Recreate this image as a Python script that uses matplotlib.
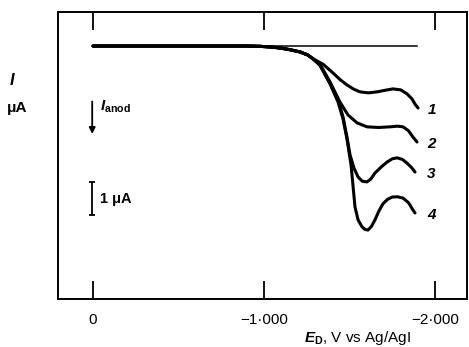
import numpy as np
import matplotlib.pyplot as plt

plt.rcParams['font.family'] = ['Liberation Sans', 'DejaVu Sans']
plt.rcParams['mathtext.fontset'] = 'custom'
plt.rcParams['mathtext.it'] = 'Liberation Sans:italic:bold'
plt.rcParams['mathtext.rm'] = 'Liberation Sans:bold'

# potencial (V vs Ag/AgI) y corriente (uA)
E_comun = [0.000, -0.900, -0.977, -1.040, -1.094, -1.150, -1.211, -1.255, -1.287]
I_comun = [0.00, 0.00, -0.01, -0.03, -0.06, -0.11, -0.18, -0.27, -0.39]

E1 = [-1.345, -1.404, -1.445, -1.485, -1.525, -1.561, -1.610, -1.661, -1.710,
      -1.754, -1.800, -1.836, -1.865, -1.883, -1.901]
I1 = [-0.55, -0.82, -1.02, -1.18, -1.31, -1.39, -1.42, -1.39, -1.34,
      -1.30, -1.33, -1.45, -1.60, -1.76, -1.88]

E2 = [-1.327, -1.386, -1.444, -1.491, -1.544, -1.602, -1.670, -1.737, -1.780,
      -1.813, -1.845, -1.871, -1.895]
I2 = [-0.55, -1.09, -1.70, -2.09, -2.33, -2.45, -2.47, -2.45, -2.43,
      -2.45, -2.57, -2.76, -2.91]

E3 = [-1.327, -1.386, -1.433, -1.462, -1.485, -1.503, -1.526, -1.550, -1.575,
      -1.602, -1.625, -1.649, -1.685, -1.719, -1.750, -1.778, -1.810, -1.836,
      -1.862, -1.883]
I3 = [-0.58, -1.12, -1.64, -2.15, -2.76, -3.30, -3.70, -3.97, -4.10,
      -4.12, -4.03, -3.85, -3.67, -3.52, -3.42, -3.39, -3.44, -3.55,
      -3.68, -3.82]

E4 = [-1.327, -1.386, -1.433, -1.462, -1.485, -1.509, -1.520, -1.532, -1.550,
      -1.573, -1.590, -1.608, -1.628, -1.649, -1.672, -1.696, -1.722, -1.749,
      -1.780, -1.813, -1.845, -1.871, -1.883]
I4 = [-0.58, -1.15, -1.70, -2.21, -2.82, -3.61, -4.21, -4.88, -5.27,
      -5.48, -5.56, -5.58, -5.47, -5.27, -5.00, -4.78, -4.65, -4.58,
      -4.57, -4.61, -4.75, -4.97, -5.06]

E_base = [0.000, -1.895]
I_base = [0.00, 0.00]

curvas = [(E1, I1, '1'), (E2, I2, '2'), (E3, I3, '3'), (E4, I4, '4')]

ticks = [0, -1, -2]
tick_labels = ['0', '\u22121\u00b7000', '\u22122\u00b7000']

fig = plt.figure(figsize=(4.69, 3.47), dpi=100)
ax = fig.add_axes([0.1237, 0.1383, 0.872, 0.827])

ax.plot(E_base, I_base, color='black', linewidth=1.1)
for E, I, nombre in curvas:
    ax.plot(E_comun + E, I_comun + I, color='black', linewidth=2.2,
            solid_joinstyle='round', solid_capstyle='round')
    ax.text(-1.98, I[-1] - 0.05, nombre, fontsize=11, fontweight='bold',
            fontstyle='italic', ha='center', va='center')

ax.set_xlim(0.205, -2.187)
ax.set_ylim(-7.67, 1.03)
ax.set_xticks(ticks)
ax.set_xticklabels(tick_labels, fontsize=11)
ax.set_yticks([])
ax.tick_params(axis='x', direction='in', length=13, width=1.3, pad=10,
               top=True)
for s in ax.spines.values():
    s.set_linewidth(1.4)

# flecha I_anod
ax.annotate('', xy=(0.005, -2.75), xytext=(0.005, -1.6),
            arrowprops=dict(arrowstyle='-|>', color='black', lw=1.3,
                            mutation_scale=9))
ax.text(-0.04, -1.85, r'$I_{\mathrm{anod}}$', fontsize=11, ha='left',
        va='center')

# escala 1 uA
ax.errorbar([0.005], [-4.62], yerr=[0.5], color='black', capsize=2.5,
            elinewidth=1.3, capthick=1.3)
ax.text(-0.04, -4.65, '1 \u03bcA', fontsize=10.5, fontweight='bold',
        ha='left', va='center')

fig.text(12 / 469, 1 - 80 / 347, r'$I$', fontsize=12, ha='center',
         va='center')
fig.text(17 / 469, 1 - 108 / 347, '\u03bcA', fontsize=11, fontweight='bold',
         ha='center', va='center')
fig.text(357 / 469, 1 - 338 / 347, r'$E_{\mathrm{D}}$, V vs Ag/AgI',
         fontsize=11, ha='center', va='center')

fig.savefig('out.png', dpi=100)
